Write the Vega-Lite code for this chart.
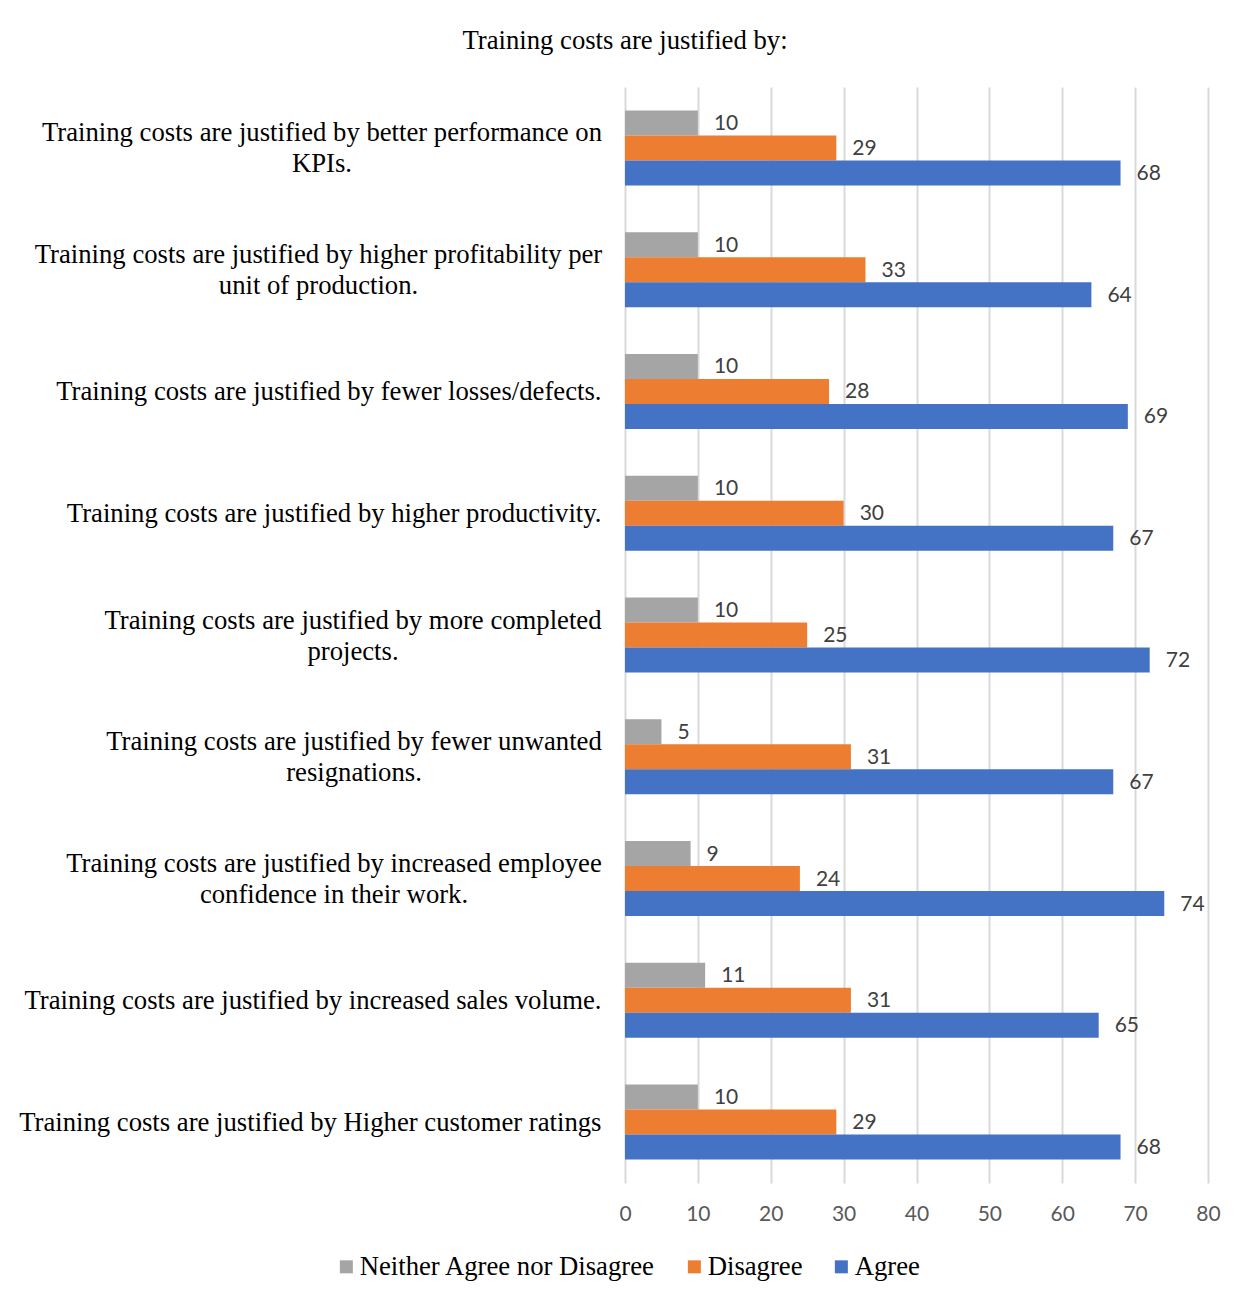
{
  "$schema": "https://vega.github.io/schema/vega-lite/v6.json",
  "autosize": "none",
  "width": 583,
  "height": 1096,
  "padding": {"left": 625, "top": 87, "right": 41, "bottom": 120},
  "background": "white",
  "title": {
    "text": "Training costs are justified by:",
    "font": "Liberation Serif",
    "fontSize": 26.7,
    "fontWeight": "normal",
    "color": "#000000",
    "anchor": "middle",
    "frame": "group",
    "dx": -291.5,
    "baseline": "alphabetic",
    "offset": 11
  },
  "data": {
    "values": [
      {"item": "Training costs are justified by better performance on KPIs.", "response": "Neither Agree nor Disagree", "value": 10},
      {"item": "Training costs are justified by better performance on KPIs.", "response": "Disagree", "value": 29},
      {"item": "Training costs are justified by better performance on KPIs.", "response": "Agree", "value": 68},
      {"item": "Training costs are justified by higher profitability per unit of production.", "response": "Neither Agree nor Disagree", "value": 10},
      {"item": "Training costs are justified by higher profitability per unit of production.", "response": "Disagree", "value": 33},
      {"item": "Training costs are justified by higher profitability per unit of production.", "response": "Agree", "value": 64},
      {"item": "Training costs are justified by fewer losses/defects.", "response": "Neither Agree nor Disagree", "value": 10},
      {"item": "Training costs are justified by fewer losses/defects.", "response": "Disagree", "value": 28},
      {"item": "Training costs are justified by fewer losses/defects.", "response": "Agree", "value": 69},
      {"item": "Training costs are justified by higher productivity.", "response": "Neither Agree nor Disagree", "value": 10},
      {"item": "Training costs are justified by higher productivity.", "response": "Disagree", "value": 30},
      {"item": "Training costs are justified by higher productivity.", "response": "Agree", "value": 67},
      {"item": "Training costs are justified by more completed projects.", "response": "Neither Agree nor Disagree", "value": 10},
      {"item": "Training costs are justified by more completed projects.", "response": "Disagree", "value": 25},
      {"item": "Training costs are justified by more completed projects.", "response": "Agree", "value": 72},
      {"item": "Training costs are justified by fewer unwanted resignations.", "response": "Neither Agree nor Disagree", "value": 5},
      {"item": "Training costs are justified by fewer unwanted resignations.", "response": "Disagree", "value": 31},
      {"item": "Training costs are justified by fewer unwanted resignations.", "response": "Agree", "value": 67},
      {"item": "Training costs are justified by increased employee confidence in their work.", "response": "Neither Agree nor Disagree", "value": 9},
      {"item": "Training costs are justified by increased employee confidence in their work.", "response": "Disagree", "value": 24},
      {"item": "Training costs are justified by increased employee confidence in their work.", "response": "Agree", "value": 74},
      {"item": "Training costs are justified by increased sales volume.", "response": "Neither Agree nor Disagree", "value": 11},
      {"item": "Training costs are justified by increased sales volume.", "response": "Disagree", "value": 31},
      {"item": "Training costs are justified by increased sales volume.", "response": "Agree", "value": 65},
      {"item": "Training costs are justified by Higher customer ratings", "response": "Neither Agree nor Disagree", "value": 10},
      {"item": "Training costs are justified by Higher customer ratings", "response": "Disagree", "value": 29},
      {"item": "Training costs are justified by Higher customer ratings", "response": "Agree", "value": 68}
    ]
  },
  "encoding": {
    "y": {
      "field": "item",
      "type": "nominal",
      "sort": null,
      "title": null,
      "scale": {"paddingInner": 0.384, "paddingOuter": 0.192},
      "axis": {
        "domain": false,
        "ticks": false,
        "grid": false,
        "labelFont": "Liberation Serif",
        "labelFontSize": 26.7,
        "labelColor": "#000000",
        "labelLimit": 800,
        "labelLineHeight": 31,
        "labelBaseline": "middle",
        "labelExpr": "datum.label == 'Training costs are justified by better performance on KPIs.' ? ['Training costs are justified by better performance on', 'KPIs.'] : datum.label == 'Training costs are justified by higher profitability per unit of production.' ? ['Training costs are justified by higher profitability per', 'unit of production.'] : datum.label == 'Training costs are justified by more completed projects.' ? ['Training costs are justified by more completed', 'projects.'] : datum.label == 'Training costs are justified by fewer unwanted resignations.' ? ['Training costs are justified by fewer unwanted', 'resignations.'] : datum.label == 'Training costs are justified by increased employee confidence in their work.' ? ['Training costs are justified by increased employee', 'confidence in their work.'] : datum.label",
        "labelAlign": {
          "condition": {"test": "datum.value == 'Training costs are justified by better performance on KPIs.' || datum.value == 'Training costs are justified by higher profitability per unit of production.' || datum.value == 'Training costs are justified by more completed projects.' || datum.value == 'Training costs are justified by fewer unwanted resignations.' || datum.value == 'Training costs are justified by increased employee confidence in their work.'", "value": "center"},
          "value": "right"
        },
        "labelOffset": {
          "condition": {"test": "datum.value == 'Training costs are justified by better performance on KPIs.' || datum.value == 'Training costs are justified by higher profitability per unit of production.' || datum.value == 'Training costs are justified by more completed projects.' || datum.value == 'Training costs are justified by fewer unwanted resignations.' || datum.value == 'Training costs are justified by increased employee confidence in their work.'", "value": -14.5},
          "value": 1
        },
        "labelPadding": {
          "condition": [
            {"test": "datum.value == 'Training costs are justified by better performance on KPIs.'", "value": 303.5},
            {"test": "datum.value == 'Training costs are justified by higher profitability per unit of production.'", "value": 307},
            {"test": "datum.value == 'Training costs are justified by more completed projects.'", "value": 272.5},
            {"test": "datum.value == 'Training costs are justified by fewer unwanted resignations.'", "value": 271.5},
            {"test": "datum.value == 'Training costs are justified by increased employee confidence in their work.'", "value": 291.5}
          ],
          "value": 24
        }
      }
    },
    "yOffset": {
      "field": "response",
      "type": "nominal",
      "sort": ["Neither Agree nor Disagree", "Disagree", "Agree"],
      "scale": {"paddingInner": 0, "paddingOuter": 0}
    },
    "x": {
      "field": "value",
      "type": "quantitative",
      "title": null,
      "scale": {"domain": [0, 80], "nice": false},
      "axis": {
        "values": [0, 10, 20, 30, 40, 50, 60, 70, 80],
        "domain": false,
        "ticks": false,
        "grid": true,
        "gridColor": "#D9D9D9",
        "gridWidth": 2,
        "labelFlush": false,
        "labelFont": "Lato",
        "labelFontSize": 21,
        "labelColor": "#595959",
        "labelPadding": 20
      }
    }
  },
  "layer": [
    {
      "mark": {"type": "bar"},
      "encoding": {
        "color": {
          "field": "response",
          "type": "nominal",
          "sort": ["Neither Agree nor Disagree", "Disagree", "Agree"],
          "scale": {
            "domain": ["Neither Agree nor Disagree", "Disagree", "Agree"],
            "range": ["#A5A5A5", "#ED7D31", "#4472C4"]
          },
          "legend": {
            "title": null,
            "orient": "none",
            "direction": "horizontal",
            "legendX": -292,
            "legendY": 1166,
            "symbolType": "square",
            "symbolSize": 169,
            "symbolStrokeWidth": 0,
            "symbolOpacity": 1,
            "labelFont": "Liberation Serif",
            "labelFontSize": 26.7,
            "labelColor": "#000000",
            "labelOffset": 0,
            "labelLimit": 400,
            "columnPadding": 25
          }
        }
      }
    },
    {
      "mark": {"type": "text", "align": "left", "baseline": "middle", "dx": 16, "dy": 1, "font": "Lato", "fontSize": 21, "color": "#404040"},
      "encoding": {
        "text": {"field": "value", "type": "quantitative"}
      }
    }
  ],
  "config": {
    "view": {"stroke": null}
  }
}
